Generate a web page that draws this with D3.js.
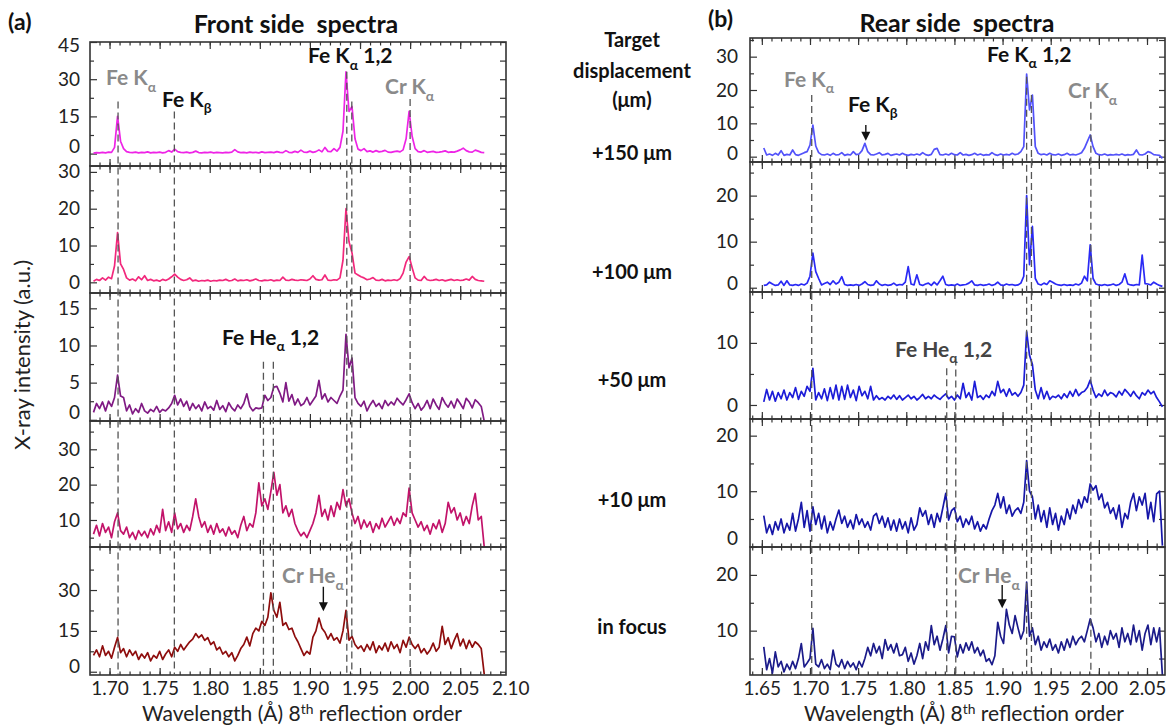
<!DOCTYPE html>
<html>
<head>
<meta charset="utf-8">
<script src="https://cdn.jsdelivr.net/npm/d3@7"></script>
<style>
  body { margin: 0; background: #fff; }
  svg { display: block; }
</style>
</head>
<body>
<svg id="fig" width="1166" height="725"></svg>
<script>
// ---------- spectra (X-ray intensity, a.u.) on a uniform wavelength grid ----------
const frontStart = 1.684, frontStep = 0.003;   // Å, front side grid
const rearStart = 1.652, rearStep = 0.003;     // Å, rear side grid

const displacementLabels = ["+150 μm", "+100 μm", "+50 μm", "+10 μm", "in focus"];

const front150 = [0.2,0.4,0.3,0.5,0.3,0.6,0.5,2.5,15,5,
  2,0.8,0.5,0.4,0.6,0.3,0.5,0.4,0.7,0.3,
  0.5,0.4,0.6,0.3,0.5,1.2,0.6,1.8,0.8,0.5,
  0.4,0.6,0.3,0.5,1.0,0.4,0.3,0.5,0.4,0.6,
  0.3,0.5,0.4,0.3,0.5,0.4,0.6,1.6,0.7,0.4,
  0.5,0.3,0.6,0.4,0.5,0.3,0.7,0.4,0.5,0.6,
  0.4,0.8,0.5,0.4,1.2,0.5,0.4,0.9,0.5,1.4,
  0.6,0.5,1.0,0.5,0.8,1.5,0.7,2.5,0.9,0.8,
  2.0,1.0,2.5,9,33,17,19,6,1.8,1.2,
  2.0,0.8,1.1,0.6,1.2,0.7,0.9,1.3,0.6,0.5,
  0.8,1.0,0.7,1.5,6,17,7,2,0.8,0.6,
  1.2,0.5,0.7,0.9,0.5,0.6,0.8,1.1,0.5,0.7,
  0.6,1.0,1.5,2.2,1.2,0.7,0.6,1.4,1.0,0.5,
  0.4];

const front100 = [0.3,0.8,0.5,1.2,0.6,1.4,1.0,4.5,13.5,5,
  3.5,1.2,0.6,0.9,0.4,1.5,0.7,1.8,0.5,0.8,
  0.4,0.6,0.3,0.8,0.5,0.9,1.5,2.2,1.4,0.8,
  0.5,0.7,1.2,0.4,0.6,0.3,0.5,0.4,0.6,0.3,
  0.5,0.4,0.6,0.5,0.8,0.4,0.5,0.9,0.4,0.6,
  0.5,0.7,0.4,0.6,0.9,0.5,0.4,0.6,0.5,0.7,
  0.4,0.6,0.5,1.4,0.6,0.5,0.8,0.6,0.5,0.7,
  0.6,0.5,0.9,1.8,0.8,0.6,0.7,2.0,0.6,0.5,
  0.7,0.6,1.2,6,20,11,8,2.5,2.0,1.5,
  1.2,0.7,0.9,1.3,0.6,0.5,0.8,0.4,0.6,0.5,
  0.7,0.5,1.0,2.5,5.5,7,4,1.2,0.6,0.5,
  1.6,0.7,0.5,0.6,0.8,0.5,0.7,0.4,0.6,0.8,
  0.5,0.7,0.5,0.6,0.9,0.6,1.6,0.8,0.5,0.4,
  0.3];

const front50 = [1.0,2.2,1.5,2.4,1.2,2.5,1.8,3.0,6.0,3.2,
  3.0,1.2,2.0,0.8,1.5,1.0,2.2,1.2,0.9,1.4,
  1.1,1.8,1.0,1.4,1.2,1.6,2.2,3.3,2.0,2.8,
  1.8,2.5,1.3,2.2,1.5,2.0,1.2,2.4,1.5,1.8,
  1.3,2.6,1.4,1.9,1.1,2.3,1.6,1.2,2.0,1.5,
  2.2,3.5,1.8,1.2,1.6,1.5,1.6,3.3,2.6,3.0,
  4.4,4.5,3.6,2.4,5.0,2.5,3.4,2.0,2.8,1.9,
  2.2,3.0,2.0,2.6,3.2,5.3,2.8,3.5,2.4,3.0,
  2.6,2.2,3.2,4.0,11.5,7,8.3,3.0,2.2,1.8,
  2.5,1.2,2.0,2.6,1.8,2.2,1.5,2.6,1.9,2.4,
  2.0,2.9,2.4,2.0,2.7,3.5,2.3,1.5,2.2,1.3,
  1.8,2.6,1.5,2.8,2.0,1.4,3.0,2.2,1.7,2.5,
  1.6,2.8,2.2,1.5,2.9,2.4,1.6,2.7,2.3,1.8,
  -0.2];

const front10 = [6,8.5,5.5,9,6.5,8,5,9.5,12,7,
  6,8,5,6.5,4.5,7,5.5,6.8,5,7.5,
  5.8,8.5,6.5,13,7,9.5,6.5,12,7.5,9,
  6.5,8.5,7,11,16,11,8,9.5,6.5,8.5,
  6,9,6.5,7.5,5.5,8,6,7,5,8.5,
  11,7,9,8,12,20.5,14,16,13,18,
  23.5,17,20,12,14,11,13,9,7,5.5,
  6.5,5,7,9,12,17,11,13,10,14,
  11,15,13,18.6,14,16,12,9,11,7.5,
  10,8,9.5,6.5,9,7.5,10.5,8,9.5,11,
  8.5,10.5,9,12,11,19,12,10,8,9.5,
  7,8.5,6,9,7.5,10,6.5,9,15,12,
  13.5,10,12,8.5,11,9,14,17.5,10,11,
  2.3];

const frontFocus = [6,8,5.5,9.5,6,7.5,5,9,12.6,7,
  8.5,5.5,8,6,7.5,4.5,6.5,5,7,4,
  6,5,7.5,4.5,6.5,8,5.5,9,7.5,10,
  8,9.5,11,12,14,12.5,13.5,11.5,12.5,10,
  11,8,9,6.5,7.5,5.5,7,4,6,8.5,
  10,12.7,9.5,14,16,15,18.5,17,20,29,
  22.5,20,25.5,17,18,15.5,16,13,11,8.5,
  6,7.5,6.5,12.7,15,19.7,16,14.5,12,14,
  11.6,12.5,10.5,15,22.5,11.6,13,10,8.5,9.5,
  7.5,10,8,11,7,9.5,8,10.5,7.5,11,
  8.5,10,7,11.5,9,12.7,10,8.5,10,7,
  8.5,6.5,8,10.5,7.5,9,16.7,10,12.5,8.5,
  11.5,14,9.5,12,8.5,11.5,9,11,10,8.5,
  -1];

const rear150 = [2.6,0.5,0.8,0.4,1.0,0.5,1.8,0.4,0.7,0.5,
  2.0,0.6,0.4,0.8,1.2,1.5,3.5,9.5,3.2,1.2,
  0.6,0.5,0.8,0.4,1.0,0.5,0.6,1.2,0.4,0.7,
  0.5,1.5,0.6,0.8,1.8,4.0,1.5,0.6,0.5,0.8,
  1.2,0.5,0.7,1.0,0.4,0.6,0.8,0.5,1.0,0.6,
  0.4,0.7,0.5,0.8,0.5,1.2,0.6,0.4,0.7,2.2,
  2.5,0.6,0.5,0.8,0.5,1.0,0.6,0.5,1.2,0.5,
  0.7,0.4,0.6,1.0,0.5,0.8,0.4,0.6,0.5,1.2,
  0.6,0.4,0.8,0.5,0.7,0.5,1.0,0.6,0.8,1.5,
  3.0,24.8,14,18.5,3.0,1.0,0.6,0.8,0.5,1.0,
  0.6,0.5,0.8,0.4,0.6,1.0,0.5,0.7,0.5,0.8,
  1.2,2.5,4.5,6.5,3.0,1.0,0.6,0.5,0.8,0.4,
  0.6,0.5,0.7,0.5,0.8,0.4,0.6,0.5,0.7,2.0,
  0.6,0.5,0.8,1.5,1.2,0.6,0.5,0.4,-0.5];

const rear100 = [0.5,0.6,1.2,0.8,0.5,0.6,1.4,0.5,1.5,0.6,
  0.5,0.7,0.5,0.8,0.6,1.0,2.5,7.5,3.5,2.0,
  0.6,0.9,1.2,0.7,1.5,0.8,1.2,2.4,0.7,0.5,
  0.6,0.5,0.7,0.5,0.8,1.3,0.7,0.5,0.6,1.5,
  0.8,0.5,0.7,0.5,0.6,1.0,0.5,0.7,0.6,1.2,
  4.6,0.8,0.6,2.8,0.7,0.5,0.8,1.0,0.5,1.2,
  0.6,1.5,2.5,0.7,0.5,0.6,0.5,0.8,0.5,0.6,
  0.7,1.0,1.5,0.6,0.5,0.7,0.5,0.6,0.8,0.5,
  0.7,1.2,0.6,0.5,0.8,0.6,0.7,0.5,0.6,1.0,
  2.5,20,5,13.3,2.0,0.8,0.6,1.0,0.7,1.5,
  1.2,0.8,0.6,0.5,0.7,0.5,0.6,0.5,0.8,0.6,
  1.0,2.5,1.5,9.3,2.0,0.8,0.6,0.5,0.7,0.5,
  0.6,0.8,0.5,0.7,1.2,3.0,0.8,0.6,0.5,0.7,
  0.6,7.1,0.9,0.8,0.6,1.2,0.8,0.5,0.3];

const rear50 = [0.5,2.5,0.8,2.2,0.6,2.0,1.0,2.4,0.8,2.0,
  1.2,2.8,0.9,2.2,1.4,3.0,2.2,5.9,0.8,2.0,
  1.0,2.6,0.7,2.8,1.0,3.2,0.8,3.0,0.9,3.2,
  1.2,2.4,0.7,3.0,1.5,2.2,1.0,3.0,0.8,1.5,
  0.9,1.2,0.8,1.4,1.0,1.6,0.9,1.5,0.8,1.2,
  1.6,1.0,1.4,0.8,1.2,1.7,1.0,1.4,1.0,1.6,
  1.2,0.9,1.4,1.8,1.0,1.4,0.8,1.6,1.0,3.5,
  1.2,2.0,0.8,3.8,1.2,1.5,0.9,1.6,1.2,2.2,
  1.5,3.8,2.0,2.5,1.4,2.6,1.6,2.0,1.4,2.0,
  3.2,11.8,8,6.5,2.4,1.0,2.8,1.0,2.2,0.9,
  1.4,1.2,1.6,1.0,1.8,1.2,2.2,1.4,2.5,1.5,
  2.0,2.2,2.8,4.0,2.4,1.2,1.8,1.4,2.4,1.5,
  2.0,1.8,1.3,2.2,1.6,2.5,2.0,1.4,2.2,1.5,
  1.0,2.0,1.6,2.4,1.8,2.2,1.2,0.5,-0.3];

const rear10 = [5.6,2.5,4.0,2.2,4.5,3.0,5.0,2.5,4.2,3.0,
  6.0,2.8,5.0,8.0,3.5,6.5,2.8,7.2,4.0,6.0,
  3.2,5.5,2.5,4.5,3.0,5.0,6.6,4.2,5.5,3.5,
  4.8,3.2,5.8,4.0,5.0,3.5,4.5,3.0,5.5,6.0,
  4.2,5.5,3.5,5.2,3.0,4.8,2.8,5.0,3.2,4.5,
  2.5,5.2,3.0,4.0,7.0,5.5,6.5,4.0,5.8,3.5,
  6.0,4.5,7.0,9.6,4.8,6.5,7.0,4.5,5.5,3.5,
  5.0,4.0,5.5,3.2,4.5,2.8,4.0,3.2,5.0,6.5,
  7.5,9.6,7.0,9.0,6.0,7.5,5.5,6.5,7.0,6.0,
  8.0,15.5,10,9,5.0,7.5,4.5,6.5,3.5,7.0,
  4.0,6.0,3.0,5.5,4.0,6.8,5.0,7.5,6.0,8.5,
  7.0,9.0,8.0,11.3,10.2,11.0,8.5,9.5,7.0,8.0,
  6.0,7.0,5.0,7.5,3.5,6.0,5.0,8.0,9.6,6.5,
  9.0,7.5,9.6,5.0,8.0,4.5,9.5,10.0,0.2];

const rearFocus = [7.1,3.0,5.0,2.4,6.2,3.5,4.5,2.6,4.0,3.0,
  4.5,3.2,5.0,7.7,3.5,4.2,5.0,10.4,4.0,3.5,
  4.8,3.2,4.0,3.0,6.5,4.0,3.5,4.8,3.2,4.5,
  3.5,4.2,3.0,4.5,3.5,5.0,7.0,5.5,7.7,6.0,
  7.2,5.0,8.4,6.5,7.5,6.0,7.7,5.5,5.7,7.0,
  4.5,6.0,4.0,5.5,7.7,5.0,8.0,6.5,10.9,7.5,
  9.0,6.5,8.5,10.9,6.0,9.0,8.9,5.3,7.5,6.0,
  7.8,6.5,8.0,6.0,7.0,5.5,6.5,4.5,5.0,3.9,
  5.5,11.5,9.0,7.7,13.8,11,9.5,12.7,10.5,8.5,
  10.0,18.7,9.0,10.5,7.5,9.0,6.5,8.0,7.0,8.5,
  6.5,7.5,6.0,8.0,6.5,8.5,7.0,9.0,7.5,8.5,
  9.0,8.0,10.0,12.1,10.5,8.0,9.5,7.0,9.0,7.5,
  10.0,8.5,9.5,7.0,10.5,8.0,9.5,7.5,11.0,8.0,
  10.0,6.5,9.5,11.0,7.5,10.5,8.0,10.5,2.0];

// ---------- tick labels ----------
const frontWavelengthTicks = [1.70, 1.75, 1.80, 1.85, 1.90, 1.95, 2.00, 2.05, 2.10];
const rearWavelengthTicks = [1.65, 1.70, 1.75, 1.80, 1.85, 1.90, 1.95, 2.00, 2.05];
const frontIntensityTicks = [[0, 15, 30, 45], [0, 10, 20, 30], [0, 5, 10, 15], [10, 20, 30], [0, 15, 30]];
const rearIntensityTicks = [[0, 10, 20, 30], [0, 10, 20], [0, 10], [0, 10, 20], [10, 20]];

// ---------- line identifications (wavelength in Å) ----------
const frontLines = [
  { wl: 1.7085, panel: 0, from: 21 },   // Fe Kα
  { wl: 1.7647, panel: 0, from: 17 },   // Fe Kβ
  { wl: 1.9368, panel: 0, from: 33 },   // Fe Kα1
  { wl: 1.9418, panel: 0, from: 21 },   // Fe Kα2
  { wl: 2.0000, panel: 0, from: 22 },   // Cr Kα
  { wl: 1.8536, panel: 2, from: 7.8 },  // Fe Heα1
  { wl: 1.8635, panel: 2, from: 7.8 }   // Fe Heα2
];
const rearLines = [
  { wl: 1.7018, panel: 0, from: 18.5 },
  { wl: 1.9250, panel: 0, from: 24 },
  { wl: 1.9300, panel: 0, from: 18.5 },
  { wl: 1.9917, panel: 0, from: 16.5 },
  { wl: 1.8420, panel: 2, from: 5.9 },
  { wl: 1.8514, panel: 2, from: 7.5 }
];

// ---------- styling / layout ----------
const FONT = "Lato, 'Open Sans', 'DejaVu Sans', sans-serif";
const GRAY = "#8a8a8a", INK = "#111", AXIS = "#333";

const front = {
  name: "front",
  x0: 90, x1: 506, rows: [42, 166, 293, 421, 547, 675],
  wl: [1.6805, 2.0957],
  start: frontStart, step: frontStep,
  wlTicks: frontWavelengthTicks,
  labelGap: 10,
  panels: [
    { values: front150, domain: [-5, 45], ticks: frontIntensityTicks[0], minor: [7.5, 22.5, 37.5], color: "#ee24e6" },
    { values: front100, domain: [-2.9, 31.6], ticks: frontIntensityTicks[1], minor: [5, 15, 25], color: "#f2287c" },
    { values: front50, domain: [-0.16, 17.06], ticks: frontIntensityTicks[2], minor: [2.5, 7.5, 12.5], color: "#801a84" },
    { values: front10, domain: [2.36, 38], ticks: frontIntensityTicks[3], minor: [5, 15, 25, 35], color: "#c2136a" },
    { values: frontFocus, domain: [-1.2, 45.8], ticks: frontIntensityTicks[4], minor: [7.5, 22.5, 37.5], color: "#8e0d0d" }
  ],
  lines: frontLines,
  notes: [
    { panel: 0, wl: 1.6965, v: 27.7, parts: ["Fe K", ["α", "sub"]], color: GRAY },
    { panel: 0, wl: 1.7524, v: 18.9, parts: ["Fe K", ["β", "sub"]], color: INK },
    { panel: 0, wl: 1.8982, v: 36.4, parts: ["Fe K", ["α", "sub"], " 1,2"], color: INK },
    { panel: 0, wl: 1.9750, v: 23.9, parts: ["Cr K", ["α", "sub"]], color: GRAY },
    { panel: 2, wl: 1.8123, v: 10.1, parts: ["Fe He", ["α", "sub"], " 1,2"], color: INK },
    { panel: 4, wl: 1.8722, v: 32.4, parts: ["Cr He", ["α", "sub"]], color: GRAY }
  ],
  arrows: [ { panel: 4, wl: 1.9134, from: 31.2, to: 22.2 } ],
  tag: { text: "(a)", x: 8, y: 30 },
  title: { text: "Front side  spectra", x: 296, y: 33 },
  xTitleX: 302
};

const rear = {
  name: "rear",
  x0: 750, x1: 1165, rows: [38, 162, 292, 419, 547, 675],
  wl: [1.6377, 2.0687],
  start: rearStart, step: rearStep,
  wlTicks: rearWavelengthTicks,
  labelGap: 12,
  panels: [
    { values: rear150, domain: [-1.6, 35.6], ticks: rearIntensityTicks[0], minor: [5, 15, 25, 35], color: "#5252fa" },
    { values: rear100, domain: [-0.93, 27.3], ticks: rearIntensityTicks[1], minor: [5, 15, 25], color: "#2a2af5" },
    { values: rear50, domain: [-2.26, 18.2], ticks: rearIntensityTicks[2], minor: [5, 15], color: "#1c1cd8" },
    { values: rear10, domain: [-0.05, 23.0], ticks: rearIntensityTicks[3], minor: [5, 15], color: "#1616a8" },
    { values: rearFocus, domain: [2.05, 25.0], ticks: rearIntensityTicks[4], minor: [5, 15, 25], color: "#1b1b8a" }
  ],
  lines: rearLines,
  notes: [
    { panel: 0, wl: 1.6730, v: 21.0, parts: ["Fe K", ["α", "sub"]], color: GRAY },
    { panel: 0, wl: 1.7395, v: 13.5, parts: ["Fe K", ["β", "sub"]], color: INK },
    { panel: 0, wl: 1.8838, v: 28.5, parts: ["Fe K", ["α", "sub"], " 1,2"], color: INK },
    { panel: 0, wl: 1.9680, v: 17.5, parts: ["Cr K", ["α", "sub"]], color: GRAY },
    { panel: 2, wl: 1.7883, v: 7.8, parts: ["Fe He", ["α", "sub"], " 1,2"], color: "#444" },
    { panel: 4, wl: 1.8537, v: 18.5, parts: ["Cr He", ["α", "sub"]], color: GRAY }
  ],
  arrows: [
    { panel: 0, wl: 1.7580, from: 9.5, to: 4.8 },
    { panel: 4, wl: 1.8996, from: 18.2, to: 14.0 }
  ],
  tag: { text: "(b)", x: 708, y: 27 },
  title: { text: "Rear side  spectra", x: 957, y: 32 },
  xTitleX: 964
};

const svg = d3.select("#fig");
const defs = svg.append("defs");

function richText(g, x, y, parts, opts) {
  const t = g.append("text")
    .attr("x", x).attr("y", y)
    .attr("font-family", FONT)
    .attr("font-size", opts.size)
    .attr("font-weight", opts.weight || "bold")
    .attr("fill", opts.color || INK)
    .attr("text-anchor", opts.anchor || "start")
    .style("white-space", "pre");
  let shift = 0;
  parts.forEach(p => {
    const [str, kind] = typeof p === "string" ? [p, null] : p;
    const target = kind === "sub" ? opts.size * 0.32 : kind === "sup" ? -opts.size * 0.34 : 0;
    t.append("tspan")
      .attr("dy", target - shift)
      .attr("font-size", kind ? opts.size * 0.66 : opts.size)
      .text(str);
    shift = target;
  });
  return t;
}

function styleAxis(sel) {
  sel.select(".domain").remove();
  sel.selectAll(".tick line").attr("stroke", AXIS).attr("stroke-width", 1.2);
  sel.selectAll("text").attr("font-family", FONT).attr("fill", "#222");
}

function drawColumn(spec) {
  const { x0, x1, rows } = spec;
  const x = d3.scaleLinear().domain(spec.wl).range([x0, x1]);
  const g = svg.append("g");
  const ys = spec.panels.map((p, i) => d3.scaleLinear().domain(p.domain).range([rows[i + 1], rows[i]]));

  const minorX = d3.range(Math.ceil(spec.wl[0] * 100), Math.floor(spec.wl[1] * 100) + 1).map(v => v / 100);
  const majorX = minorX.filter(v => Math.round(v * 100) % 5 === 0);
  const labelSets = [];

  spec.panels.forEach((p, i) => {
    const y = ys[i], top = rows[i], bot = rows[i + 1];
    const pg = g.append("g");
    const clipId = spec.name + "-clip-" + i;
    defs.append("clipPath").attr("id", clipId)
      .append("rect").attr("x", x0).attr("y", top).attr("width", x1 - x0).attr("height", bot - top);

    // wavelength ticks along the top and bottom edges, pointing inward
    [[d3.axisTop, top], [d3.axisBottom, bot]].forEach(([axisFn, yy]) => {
      pg.append("g").attr("transform", `translate(0,${yy})`)
        .call(axisFn(x).tickValues(minorX).tickSizeInner(-3.5).tickSizeOuter(0).tickFormat(""))
        .call(styleAxis);
      pg.append("g").attr("transform", `translate(0,${yy})`)
        .call(axisFn(x).tickValues(majorX).tickSizeInner(-7).tickSizeOuter(0).tickFormat(""))
        .call(styleAxis);
    });

    // intensity ticks, left (labelled) and right
    const left = pg.append("g").attr("transform", `translate(${x0},0)`)
      .call(d3.axisLeft(y).tickValues(p.ticks).tickSizeInner(-7).tickSizeOuter(0).tickPadding(spec.labelGap).tickFormat(d3.format("d")))
      .call(styleAxis);
    const entries = [];
    left.selectAll("text").attr("font-size", 19)
      .each(function (v) {
        const yy = y(v);
        let c = yy;
        if (c > bot - 9) c = bot - 9;
        if (c < top + 3) c = top + 3;
        entries.push({ node: this, tick: yy, pos: c });
      });
    labelSets.push(entries);
    pg.append("g").attr("transform", `translate(${x0},0)`)
      .call(d3.axisLeft(y).tickValues(p.minor).tickSizeInner(-4).tickSizeOuter(0).tickFormat(""))
      .call(styleAxis);
    pg.append("g").attr("transform", `translate(${x1},0)`)
      .call(d3.axisRight(y).tickValues(p.ticks.concat(p.minor)).tickSizeInner(-6).tickSizeOuter(0).tickFormat(""))
      .call(styleAxis);

    // spectrum
    const line = d3.line()
      .x((d, k) => x(spec.start + k * spec.step))
      .y(d => y(d));
    pg.append("path")
      .datum(p.values)
      .attr("clip-path", `url(#${clipId})`)
      .attr("d", line)
      .attr("fill", "none")
      .attr("stroke", p.color)
      .attr("stroke-width", 1.7)
      .attr("stroke-linejoin", "round");

    // frame
    pg.append("rect")
      .attr("x", x0).attr("y", top).attr("width", x1 - x0).attr("height", bot - top)
      .attr("fill", "none").attr("stroke", AXIS).attr("stroke-width", 1.6);
  });

  // keep the lowest label of a panel clear of the top label of the panel below
  for (let i = 0; i < labelSets.length - 1; i++) {
    const low = labelSets[i].reduce((a, b) => (b.pos > a.pos ? b : a));
    const high = labelSets[i + 1].reduce((a, b) => (b.pos < a.pos ? b : a));
    if (high.pos - low.pos < 22) low.pos = high.pos - 25;
  }
  labelSets.flat().forEach(e => d3.select(e.node).attr("y", e.pos - e.tick));

  // dashed line identifications running down through the lower panels
  const lg = g.append("g");
  spec.lines.forEach(l => {
    lg.append("line")
      .attr("x1", x(l.wl)).attr("x2", x(l.wl))
      .attr("y1", ys[l.panel](l.from)).attr("y2", rows[rows.length - 1])
      .attr("stroke", "#555").attr("stroke-width", 1.3)
      .attr("stroke-dasharray", "7,4");
  });

  // arrows
  spec.arrows.forEach(a => {
    const cx = x(a.wl), yA = ys[a.panel](a.from), yB = ys[a.panel](a.to);
    lg.append("line").attr("x1", cx).attr("x2", cx).attr("y1", yA).attr("y2", yB - 6)
      .attr("stroke", INK).attr("stroke-width", 1.4);
    lg.append("path")
      .attr("d", `M${cx - 4.5},${yB - 9}L${cx + 4.5},${yB - 9}L${cx},${yB}Z`)
      .attr("fill", INK);
  });

  // line names
  spec.notes.forEach(n => {
    richText(g, x(n.wl), ys[n.panel](n.v), n.parts, { size: 21, color: n.color });
  });

  // wavelength labels under the bottom panel
  const bottom = rows[rows.length - 1];
  g.append("g").attr("transform", `translate(0,${bottom})`)
    .call(d3.axisBottom(x).tickValues(spec.wlTicks).tickSize(0).tickPadding(7).tickFormat(d3.format(".2f")))
    .call(styleAxis)
    .selectAll("text").attr("font-size", 19);

  richText(g, spec.xTitleX, 721, ["Wavelength (Å) 8", ["th", "sup"], " reflection order"],
    { size: 21, weight: "normal", color: "#222", anchor: "middle" });

  // panel tag and title
  richText(g, spec.tag.x, spec.tag.y, [spec.tag.text], { size: 23 });
  richText(g, spec.title.x, spec.title.y, [spec.title.text], { size: 25, anchor: "middle" });
}

drawColumn(front);
drawColumn(rear);

// shared y-axis title
svg.append("text")
  .attr("transform", "translate(30,355) rotate(-90)")
  .attr("text-anchor", "middle")
  .attr("font-family", FONT).attr("font-size", 22).attr("fill", "#222")
  .text("X-ray intensity (a.u.)");

// target displacement column
const colX = 632;
richText(svg, colX, 47, ["Target"], { size: 20, anchor: "middle" });
richText(svg, colX, 78, ["displacement"], { size: 20, anchor: "middle" });
richText(svg, colX, 107, ["(μm)"], { size: 20, anchor: "middle" });
const displacementY = [160, 279, 387, 507, 634];
displacementLabels.forEach((s, i) => {
  richText(svg, colX, displacementY[i], [s], { size: 20, anchor: "middle" });
});
</script>
</body>
</html>
